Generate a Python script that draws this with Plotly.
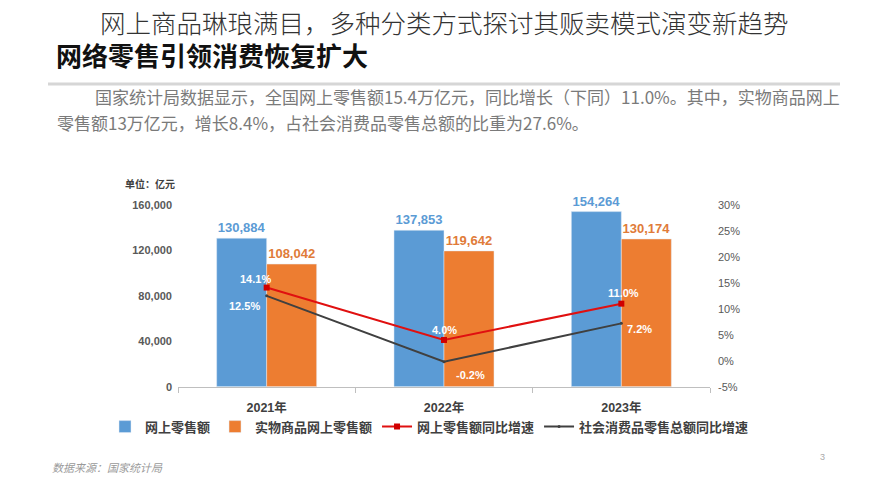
import plotly.graph_objects as go

# ---- data ----
years = ["2021年", "2022年", "2023年"]
online_sales = [130884, 137853, 154264]          # 网上零售额 (亿元)
physical_sales = [108042, 119642, 130174]        # 实物商品网上零售额 (亿元)
online_growth = [14.1, 4.0, 11.0]                # 网上零售额同比增速 (%)
retail_growth = [12.5, -0.2, 7.2]                # 社会消费品零售总额同比增速 (%)
left_ticks = [0, 40000, 80000, 120000, 160000]
right_ticks = [-5, 0, 5, 10, 15, 20, 25, 30]

W, H = 889, 500
def px(x):
    return x / W
def py(y):
    return 1 - y / H

BLUE = "#5B9BD5"
ORANGE = "#ED7D31"
RED = "#E01010"
DARK = "#404040"
CJK = "Noto Sans CJK SC"
LAT = "Liberation Sans, Arial, " + CJK

fig = go.Figure()
fig.add_trace(go.Bar(
    x=years, y=online_sales, name="网上零售额", marker_color=BLUE,
    text=[f"{v:,}" for v in online_sales], textposition="outside",
    textfont=dict(color=BLUE, size=13, family=LAT, weight="bold"),
    constraintext="none", cliponaxis=False, yaxis="y"))
fig.add_trace(go.Bar(
    x=years, y=physical_sales, name="实物商品网上零售额", marker_color=ORANGE,
    text=[f"{v:,}" for v in physical_sales], textposition="outside",
    textfont=dict(color="#E07B39", size=13, family=LAT, weight="bold"),
    constraintext="none", cliponaxis=False, yaxis="y"))
fig.add_trace(go.Scatter(
    x=years, y=online_growth, name="网上零售额同比增速", mode="lines+markers",
    line=dict(color=RED, width=2), marker=dict(symbol="square", size=6, color="#D00000"),
    yaxis="y2", cliponaxis=False))
fig.add_trace(go.Scatter(
    x=years, y=retail_growth, name="社会消费品零售总额同比增速", mode="lines+markers",
    line=dict(color=DARK, width=2), marker=dict(symbol="circle", size=3, color=DARK),
    yaxis="y2", cliponaxis=False))

# line value labels (white, bold)
red_off = [(-11, 9), (0, 10), (2, 11)]
dark_off = [(-22, -10), (26, -13), (18, -6)]
anns = []
for series, offs in ((online_growth, red_off), (retail_growth, dark_off)):
    for xv, yv, (dx, dy) in zip(years, series, offs):
        anns.append(dict(x=xv, y=yv, xref="x", yref="y2", text=f"{yv:.1f}%",
                         showarrow=False, xshift=dx, yshift=dy,
                         font=dict(color="white", size=11, family=LAT, weight="bold")))

# page texts
anns += [
    dict(x=px(444.5), y=py(16), xref="paper", yref="paper", xanchor="center", yanchor="middle",
         text="网上商品琳琅满目，多种分类方式探讨其贩卖模式演变新趋势", showarrow=False,
         font=dict(family="Noto Sans CJK SC Light, Noto Sans CJK SC DemiLight, " + CJK,
                   size=25.5, color="#333333", weight=300)),
    dict(x=px(54), y=py(50), xref="paper", yref="paper", xanchor="left", yanchor="middle",
         text="网络零售引领消费恢复扩大", showarrow=False,
         font=dict(family=CJK, size=26, color="#111111", weight="bold")),
    dict(x=px(93), y=py(93), xref="paper", yref="paper", xanchor="left", yanchor="middle",
         text="国家统计局数据显示，全国网上零售额15.4万亿元，同比增长（下同）11.0%。其中，实物商品网上",
         showarrow=False, font=dict(family=CJK, size=17, color="#7a7a7a")),
    dict(x=px(55), y=py(119), xref="paper", yref="paper", xanchor="left", yanchor="middle",
         text="零售额13万亿元，增长8.4%，占社会消费品零售总额的比重为27.6%。",
         showarrow=False, font=dict(family=CJK, size=17, color="#7a7a7a")),
    dict(x=px(123), y=py(182), xref="paper", yref="paper", xanchor="left", yanchor="middle",
         text="单位：亿元", showarrow=False,
         font=dict(family=CJK, size=10, color="#404040", weight="bold")),
    dict(x=px(50), y=py(472), xref="paper", yref="paper", xanchor="left", yanchor="middle",
         text="<i>数据来源：国家统计局</i>", showarrow=False,
         font=dict(family=CJK, size=11, color="#9a9a9a")),
    dict(x=px(822), y=py(462), xref="paper", yref="paper", xanchor="center", yanchor="middle",
         text="3", showarrow=False, font=dict(family=LAT, size=9, color="#aaaaaa")),
]

fig.update_layout(
    width=W, height=H, autosize=False,
    margin=dict(l=0, r=0, t=0, b=0),
    paper_bgcolor="white", plot_bgcolor="white",
    barmode="group", bargap=0.436, bargroupgap=0,
    font=dict(family=CJK, color="#404040"),
    annotations=anns,
    shapes=[dict(type="line", xref="paper", yref="paper", x0=px(48), x1=px(840),
                 y0=py(80), y1=py(80), line=dict(color="#d6d6d6", width=3))],
    xaxis=dict(domain=[px(178), px(710)], anchor="y", showline=True, linecolor="#bfbfbf",
               linewidth=1, ticks="outside", tickson="boundaries", ticklen=5,
               tickcolor="#bfbfbf", showgrid=False, ticklabelstandoff=9,
               tickfont=dict(family=LAT, size=12.5, color="#404040", weight="bold")),
    yaxis=dict(domain=[py(390), py(204)], range=[0, 160000], tickvals=left_ticks,
               tickformat=",", showgrid=False, zeroline=False, showline=False,
               ticklabelstandoff=5,
               tickfont=dict(family=LAT, size=11, color="#595959", weight="bold")),
    yaxis2=dict(domain=[py(390), py(204)], range=[-5, 30], tickvals=right_ticks,
                ticktext=[f"{v}%" for v in right_ticks], tickmode="array",
                overlaying="y", side="right", anchor="x", ticklabelstandoff=7,
                showgrid=False, zeroline=False, showline=False,
                tickfont=dict(family=LAT, size=11, color="#595959")),
    legend=dict(orientation="h", x=px(105), xanchor="left", y=py(431), yanchor="middle",
                font=dict(family=CJK, size=13, color="#404040", weight="bold"),
                traceorder="normal", bgcolor="rgba(0,0,0,0)"),
    showlegend=True,
)

fig.write_html("out.html", config={"displayModeBar": False},
               post_script="document.body.style.margin='0';document.body.style.overflow='hidden';")
